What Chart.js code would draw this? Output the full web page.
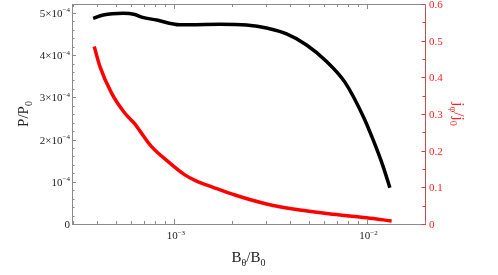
<!DOCTYPE html>
<html>
<head>
<meta charset="utf-8">
<script src="https://cdn.jsdelivr.net/npm/chart.js@4"></script>
<style>
html,body{margin:0;padding:0;background:#fff;}
#wrap{width:498px;height:275px;}
</style>
</head>
<body>
<div id="wrap"><canvas id="c" width="498" height="275"></canvas></div>
<script>
// Data
const bField = [3.81e-4,4.30e-4,5.46e-4,6.27e-4,6.80e-4,8.13e-4,1.074e-3,1.211e-3,1.733e-3,2.384e-3,3.028e-3,3.844e-3,4.882e-3,6.20e-3,7.715e-3,9.65e-3,1.082e-2,1.219e-2,1.321e-2];
const pressure = [4.87e-4,4.95e-4,4.99e-4,4.96e-4,4.90e-4,4.83e-4,4.72e-4,4.72e-4,4.73e-4,4.71e-4,4.64e-4,4.50e-4,4.24e-4,3.85e-4,3.36e-4,2.53e-4,1.99e-4,1.36e-4,0.86e-4];
const bFieldJ = [3.86e-4,4.13e-4,4.75e-4,5.57e-4,6.27e-4,6.66e-4,7.66e-4,9.34e-4,1.14e-3,1.311e-3,1.599e-3,2.073e-3,3.028e-3,4.507e-3,6.71e-3,1.0e-2,1.349e-2];
const current = [0.484,0.430,0.357,0.302,0.273,0.254,0.211,0.170,0.134,0.117,0.100,0.079,0.0546,0.038,0.0265,0.0172,0.0082];

const leftTicks = [0,1e-4,2e-4,3e-4,4e-4,5e-4];
const leftLabels = [["0",""],["10","\u22124"],["2\u00d710","\u22124"],["3\u00d710","\u22124"],["4\u00d710","\u22124"],["5\u00d710","\u22124"]];
const rightTicks = [0,0.1,0.2,0.3,0.4,0.5,0.6];
const rightLabels = ["0","0.1","0.2","0.3","0.4","0.5","0.6"];
const xMajor = [1e-3,1e-2];
const xLabels = [["10","\u22123"],["10","\u22122"]];

const SERIF = '"Liberation Serif","Times New Roman",serif';

function drawSub(ctx, parts, x, y, size, align){
  let w = 0;
  const widths = parts.map(p=>{
    ctx.font = (p[1]==='n'?size:Math.round(size*0.68))+'px '+SERIF;
    const m = ctx.measureText(p[0]).width; w+=m; return m;});
  let cx = align==='center'? x - w/2 : (align==='right'? x-w : x);
  parts.forEach((p,i)=>{
    ctx.font = (p[1]==='n'?size:Math.round(size*0.68))+'px '+SERIF;
    const dy = p[1]==='s'? size*0.28 : (p[1]==='p'? -size*0.4 : 0);
    ctx.fillText(p[0], cx, y+dy);
    cx += widths[i];
  });
}

const framePlugin = {
  id:'frame',
  afterDraw(chart){
    const ctx = chart.ctx, a = chart.chartArea;
    const xs = chart.scales.x, yl = chart.scales.y, yr = chart.scales.y2;
    ctx.save();
    ctx.lineWidth = 1;
    ctx.strokeStyle = '#8a8a8a';
    ctx.beginPath();
    ctx.moveTo(a.left+0.5, a.top+0.5); ctx.lineTo(a.right, a.top+0.5);
    ctx.moveTo(a.left+0.5, a.top); ctx.lineTo(a.left+0.5, a.bottom+0.5);
    ctx.moveTo(a.left, a.bottom+0.5); ctx.lineTo(a.right, a.bottom+0.5);
    ctx.stroke();
    ctx.strokeStyle = '#c84a4a';
    ctx.beginPath();
    ctx.moveTo(a.right+0.5, a.top); ctx.lineTo(a.right+0.5, a.bottom+1);
    ctx.stroke();
    ctx.strokeStyle = '#8a8a8a';
    ctx.beginPath();
    for(let e=-4; e<=-2; e++){
      for(let m=1;m<=9;m++){
        const v = m*Math.pow(10,e);
        if(v < xs.min || v > xs.max) continue;
        const px = Math.round(xs.getPixelForValue(v))+0.5;
        const len = m===1? 5 : 3;
        ctx.moveTo(px, a.bottom); ctx.lineTo(px, a.bottom-len);
        ctx.moveTo(px, a.top); ctx.lineTo(px, a.top+len);
      }
    }
    for(let k=0;k<=26;k++){
      const v = k*2e-5;
      if(v>yl.max) break;
      const py = Math.round(yl.getPixelForValue(v))+0.5;
      const len = (k%5===0)? 4 : 2.5;
      ctx.moveTo(a.left, py); ctx.lineTo(a.left+len, py);
    }
    ctx.stroke();
    ctx.strokeStyle = '#d04040';
    ctx.beginPath();
    for(let k=0;k<=12;k++){
      const v = k*0.05;
      const py = Math.round(yr.getPixelForValue(v))+0.5;
      const len = (k%2===0)? 3.5 : 2.5;
      ctx.moveTo(a.right, py); ctx.lineTo(a.right-len, py);
    }
    ctx.stroke();

    ctx.textBaseline = 'alphabetic';
    ctx.textAlign = 'left';
    ctx.fillStyle = '#222';
    leftTicks.forEach((v,i)=>{
      const py = yl.getPixelForValue(v);
      const L = leftLabels[i];
      const parts = L[1]? [[L[0],'n'],[L[1],'p']] : [[L[0],'n']];
      drawSub(ctx, parts, a.left-2, py+4, 11, 'right');
    });
    xMajor.forEach((v,i)=>{
      const px = xs.getPixelForValue(v);
      drawSub(ctx, [[xLabels[i][0],'n'],[xLabels[i][1],'p']], px+2, a.bottom+15, 11, 'center');
    });
    ctx.fillStyle = '#ff2020';
    rightTicks.forEach((v,i)=>{
      const py = yr.getPixelForValue(v);
      drawSub(ctx, [[rightLabels[i],'n']], a.right+4, py+4, 11, 'left');
    });
    ctx.fillStyle = '#222';
    drawSub(ctx, [['B','n'],['\u03b8','s'],['/B','n'],['0','s']], (a.left+a.right)/2, a.bottom+38, 15, 'center');
    ctx.save();
    ctx.translate(28, (a.top+a.bottom)/2);
    ctx.rotate(-Math.PI/2);
    drawSub(ctx, [['P/P','n'],['0','s']], 0, 0, 15, 'center');
    ctx.restore();
    ctx.save();
    ctx.fillStyle = '#ff2020';
    ctx.translate(454, (a.top+a.bottom)/2);
    ctx.rotate(Math.PI/2);
    drawSub(ctx, [['j','n'],['\u03c6','s'],['/j','n'],['0','s']], 0, 0, 15, 'center');
    ctx.restore();
    ctx.restore();
  }
};

new Chart(document.getElementById('c'), {
  type:'line',
  data:{
    datasets:[
      {data: bField.map((x,i)=>({x, y: pressure[i]})), yAxisID:'y', borderColor:'#000', borderWidth:3.5, pointRadius:0, cubicInterpolationMode:'monotone', fill:false},
      {data: bFieldJ.map((x,i)=>({x, y: current[i]})), yAxisID:'y2', borderColor:'#ff0000', borderWidth:3.5, pointRadius:0, cubicInterpolationMode:'monotone', fill:false}
    ]
  },
  options:{
    responsive:false,
    animation:false,
    layout:{padding:{left:72, right:73, top:4, bottom:51}},
    plugins:{legend:{display:false}, tooltip:{enabled:false}},
    scales:{
      x:{type:'logarithmic', min:2.96e-4, max:2.01e-2, display:false},
      y:{type:'linear', position:'left', min:0, max:5.21e-4, display:false},
      y2:{type:'linear', position:'right', min:0, max:0.6, display:false}
    }
  },
  plugins:[framePlugin]
});
</script>
</body>
</html>
